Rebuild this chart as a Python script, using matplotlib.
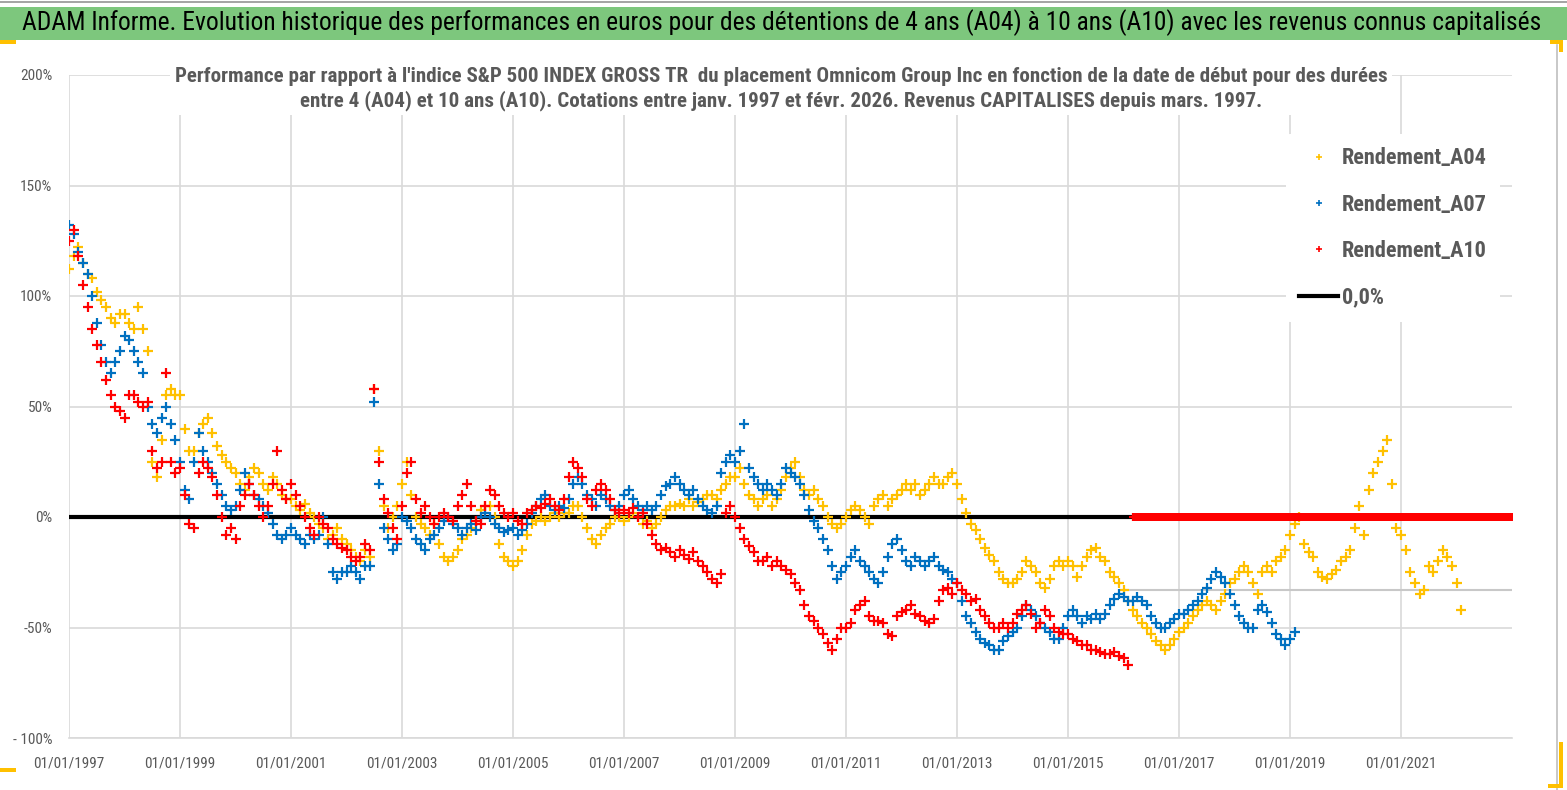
import numpy as np
import matplotlib
matplotlib.use("Agg")
import matplotlib.pyplot as plt
from matplotlib.lines import Line2D
from matplotlib.patches import Rectangle
from matplotlib import font_manager

# ---------------- data (monthly readings, start Jan 1997) ----------------
START_YEAR = 1997

A04 = [
    112, 118, 122, 115, 110, 108, 102, 98, 95, 90, 88, 92,      # 1997
    92, 88, 85, 95, 85, 75, 25, 18, 35, 55, 58, 55,             # 1998
    55, 40, 30, 30, 38, 42, 45, 38, 32, 28, 25, 22,             # 1999
    20, 15, 12, 18, 22, 20, 15, 12, 18, 15, 10, 8,              # 2000
    8, 5, 3, 6, 2, 0, -3, -5, -10, -8, -5, -10,                 # 2001
    -12, -15, -18, -20, -15, -18, 58, 30, 5, -5, 0, 5,          # 2002
    15, 25, 10, 0, -3, -5, -8, -3, -12, -18, -20, -18,          # 2003
    -15, -10, -8, -5, -2, 3, 5, 5, 0, -12, -18, -20,            # 2004
    -22, -20, -15, -8, -3, -2, 0, -2, 0, 2, 0, 2,               # 2005
    2, 5, 5, 0, -5, -10, -12, -8, -5, -3, 0, 0,                 # 2006
    -2, 0, 2, 0, -3, -2, -5, -3, 0, 3, 5, 5,                    # 2007
    6, 5, 8, 5, 7, 8, 10, 10, 8, 12, 15, 18,                    # 2008
    18, 22, 15, 10, 8, 5, 8, 10, 5, 8, 12, 18,                  # 2009
    22, 25, 18, 12, 10, 12, 8, 5, 0, -3, -5, -3,                # 2010
    0, 3, 5, 3, 0, -3, 5, 8, 10, 5, 8, 10,                      # 2011
    12, 15, 12, 15, 10, 12, 15, 18, 15, 15, 18, 20,             # 2012
    15, 8, 2, -3, -6, -10, -14, -17, -20, -25, -28, -30,        # 2013
    -30, -28, -25, -20, -22, -25, -30, -32, -28, -22, -20, -22, # 2014
    -20, -22, -27, -22, -18, -15, -14, -18, -20, -25, -27, -30, # 2015
    -33, -38, -42, -45, -48, -50, -53, -56, -58, -60, -58, -55, # 2016
    -52, -50, -48, -45, -42, -40, -38, -40, -42, -38, -35, -30, # 2017
    -28, -25, -22, -25, -30, -35, -25, -22, -25, -20, -18, -15, # 2018
    -8, -3, 0, -12, -16, -18, -25, -27, -28, -26, -24, -20,     # 2019
    -18, -15, -5, 5, -8, 12, 20, 25, 30, 35, 15, -5,            # 2020
    -8, -15, -25, -30, -35, -33, -22, -25, -20, -15, -18, -22,  # 2021
    -30, -42,                                                   # 2022
]

A07 = [
    132, 128, 120, 115, 110, 100, 88, 78, 70, 65, 70, 75,       # 1997
    82, 80, 75, 70, 65, 50, 42, 38, 45, 50, 42, 35,             # 1998
    25, 12, 8, 25, 38, 30, 25, 20, 15, 10, 5, 3,                # 1999
    5, 12, 20, 15, 10, 8, 5, 2, -3, -8, -10, -8,                # 2000
    -5, -8, -10, -12, -8, -10, -8, 0, -12, -25, -28, -25,       # 2001
    -25, -22, -25, -28, -22, -22, 52, 15, -5, -10, -15, -12,    # 2002
    0, -2, -5, -10, -12, -15, -10, -8, -5, -2, 0, -3,           # 2003
    -5, -8, -5, -3, -6, 0, 2, 0, -3, -5, -7, -6,                # 2004
    -5, -8, -6, -3, 2, 5, 8, 10, 5, 3, 5, 4,                    # 2005
    8, 15, 18, 15, 10, 8, 5, 10, 8, 5, 3, 5,                    # 2006
    10, 12, 8, 5, 3, 5, 3, 5, 10, 14, 15, 18,                   # 2007
    15, 12, 10, 12, 8, 5, 3, 2, 5, 20, 25, 28,                  # 2008
    25, 30, 42, 22, 18, 15, 12, 15, 12, 10, 15, 22,             # 2009
    20, 18, 15, 10, 3, -2, -5, -10, -15, -22, -28, -25,         # 2010
    -22, -18, -15, -20, -22, -25, -28, -30, -25, -18, -12, -10, # 2011
    -15, -20, -22, -18, -20, -22, -20, -18, -22, -24, -25, -28, # 2012
    -30, -38, -45, -48, -52, -55, -57, -58, -60, -60, -56, -54, # 2013
    -52, -50, -45, -40, -42, -45, -48, -50, -52, -55, -55, -50, # 2014
    -45, -42, -45, -48, -45, -46, -44, -46, -44, -40, -37, -35, # 2015
    -36, -38, -38, -36, -38, -40, -45, -48, -50, -50, -48, -46, # 2016
    -44, -44, -42, -40, -38, -35, -32, -28, -25, -27, -30, -35, # 2017
    -40, -45, -48, -50, -50, -42, -40, -43, -48, -53, -55, -58, # 2018
    -55, -52,                                                   # 2019
]

A10 = [
    125, 130, 118, 105, 95, 85, 78, 70, 62, 55, 50, 48,         # 1997
    45, 55, 55, 52, 50, 52, 30, 22, 25, 65, 25, 20,             # 1998
    22, 10, -3, -5, 20, 25, 22, 18, 10, 0, -8, -5,              # 1999
    -10, 5, 10, 15, 10, 5, 0, 5, 15, 30, 12, 8,                 # 2000
    15, 10, 5, 0, -5, -8, 0, -3, -5, -10, -12, -14,             # 2001
    -15, -18, -20, -18, -12, -15, 58, 25, 8, 2, -5, -10,        # 2002
    5, 20, 25, 8, 2, 5, 0, -3, 0, 2, 0, -2,                     # 2003
    5, 10, 15, 5, -2, -3, 5, 12, 10, 5, 2, 0,                   # 2004
    2, -2, -3, 2, 3, 5, 4, 6, 8, 5, 3, 8,                       # 2005
    18, 25, 22, 18, 8, 5, 12, 15, 12, 8, 3, 2,                  # 2006
    3, 2, 4, 0, 2, -3, -8, -12, -15, -14, -16, -18,             # 2007
    -15, -17, -19, -16, -20, -22, -25, -28, -30, -26, 2, 5,     # 2008
    0, -5, -10, -13, -16, -20, -20, -18, -22, -20, -22, -24,    # 2009
    -26, -30, -33, -40, -45, -47, -50, -53, -57, -60, -55, -50, # 2010
    -50, -48, -42, -40, -38, -45, -47, -47, -48, -53, -54, -45, # 2011
    -43, -42, -40, -44, -45, -47, -48, -46, -38, -33, -32, -35, # 2012
    -30, -33, -35, -38, -37, -42, -45, -48, -50, -50, -48, -50, # 2013
    -48, -44, -42, -40, -44, -50, -48, -42, -45, -50, -52, -53, # 2014
    -53, -55, -56, -58, -58, -60, -60, -61, -62, -62, -61, -63, # 2015
    -64, -67,                                                   # 2016
]
# A10 sits exactly on 0 % from March 2016 to the end of the axis
A10_ZERO_FROM = 2016 + 2 / 12
A10_ZERO_TO = 2023.0

X_TICKS = [1997, 1999, 2001, 2003, 2005, 2007, 2009, 2011, 2013, 2015, 2017, 2019, 2021]
X_LABELS = ["01/01/%d" % y for y in X_TICKS]
Y_TICKS = [-100, -50, 0, 50, 100, 150, 200]
Y_LABELS = ["- 100%", "-50%", "0%", "50%", "100%", "150%", "200%"]

TITLE = ("ADAM Informe. Evolution historique des performances en euros pour des détentions "
         "de 4 ans (A04) à 10 ans (A10) avec les revenus connus capitalisés")
SUBTITLE = ("Performance par rapport à l'indice S&P 500 INDEX GROSS TR  du placement Omnicom Group Inc "
            "en fonction de la date de début pour des durées\n"
            "entre 4 (A04) et 10 ans (A10). Cotations entre janv. 1997 et févr. 2026. "
            "Revenus CAPITALISES depuis mars. 1997.")
LEGEND_LABELS = ["Rendement_A04", "Rendement_A07", "Rendement_A10", "0,0%"]

C04, C07, C10 = "#FFC000", "#0070C0", "#FF0000"
GREY_TXT = "#595959"

available = {f.name for f in font_manager.fontManager.ttflist}
NARROW = [n for n in ["Liberation Sans Narrow", "DejaVu Sans Condensed", "Roboto Condensed",
                      "Open Sans Condensed"] if n in available]
CONDENSED = bool(NARROW)
FONT = NARROW + ["Liberation Sans", "DejaVu Sans"]
K = 1.0 if CONDENSED else 0.86   # size factor when no condensed face exists

plt.rcParams["font.family"] = FONT

W, H = 1567, 790
fig = plt.figure(figsize=(W / 100, H / 100), dpi=100)
fig.patch.set_facecolor("white")

def fx(px):
    return px / W

def fy(py):
    return 1 - py / H

ax = fig.add_axes([fx(69), fy(738), fx(1512) - fx(69), fy(75) - fy(738)])
ax.set_xlim(1997, 2023)
ax.set_ylim(-100, 200)

def months(values):
    return START_YEAR + np.arange(len(values)) / 12.0

ax.axhline(0, color="black", lw=3, zorder=1, solid_capstyle="round")
ax.hlines(-33, 2016.0, 2023, color="#C8C8C8", lw=1.5, zorder=0.8)

mk = dict(linestyle="none", marker="+", markersize=6.5, markeredgewidth=1.6)
ax.plot(months(A04), A04, color=C04, zorder=2, **mk)
ax.plot(months(A07), A07, color=C07, zorder=3, **mk)
ax.plot(months(A10), A10, color=C10, zorder=4, **mk)
zx = np.arange(A10_ZERO_FROM, A10_ZERO_TO + 1e-9, 1 / 52)
ax.plot(zx, np.zeros_like(zx), color=C10, zorder=4, linestyle="none", marker="+",
        markersize=5.5, markeredgewidth=1.6)

ax.set_xticks(X_TICKS)
ax.set_xticklabels(X_LABELS)
ax.set_yticks(Y_TICKS)
ax.set_yticklabels(Y_LABELS)
ax.grid(True, color="#D9D9D9", lw=1.2)
ax.set_axisbelow(True)
for s in ["top", "right", "left"]:
    ax.spines[s].set_visible(False)
ax.spines["bottom"].set_color("#D9D9D9")
ax.spines["bottom"].set_linewidth(1.2)
ax.tick_params(axis="both", length=0, colors=GREY_TXT, labelsize=11 * K)
ax.tick_params(axis="x", pad=13)
ax.tick_params(axis="y", pad=12)

# title banner
fig.patches.append(Rectangle((0, fy(40)), 1, fy(7) - fy(40), transform=fig.transFigure,
                             facecolor="#7DC77D", edgecolor="none", zorder=0))
fig.patches.append(Rectangle((0, fy(3)), 1, fy(1) - fy(3), transform=fig.transFigure,
                             facecolor="#A6A6A6", edgecolor="none", zorder=0))
fig.text(fx(782), fy(23), TITLE, ha="center", va="center",
         fontsize=18.4 * K, color="black")

# subtitle
fig.text(fx(781), fy(89), SUBTITLE, ha="center", va="center",
         fontsize=15.1 * K, fontweight="bold", color=GREY_TXT, linespacing=1.3,
         bbox=dict(facecolor="white", edgecolor="none", pad=3), zorder=5)

# legend
handles = [
    Line2D([], [], color=C04, marker="+", linestyle="none", markersize=5, markeredgewidth=1.2),
    Line2D([], [], color=C07, marker="+", linestyle="none", markersize=5, markeredgewidth=1.2),
    Line2D([], [], color=C10, marker="+", linestyle="none", markersize=5, markeredgewidth=1.2),
    Line2D([], [], color="black", lw=3),
]
leg = fig.legend(handles, LEGEND_LABELS, loc="upper left",
                 bbox_to_anchor=(fx(1286), fy(134)), frameon=True,
                 fontsize=16 * K,
                 labelspacing=1.1, handlelength=1.75, handletextpad=0.15,
                 borderpad=0.6, borderaxespad=0)
leg.get_frame().set_facecolor("white")
leg.get_frame().set_edgecolor("none")
leg.get_frame().set_alpha(1)
for t in leg.get_texts():
    t.set_color(GREY_TXT)
    t.set_fontweight("bold")

# chart frame decorations
fig.add_artist(Line2D([fx(1557), fx(1557)], [fy(45), fy(790)], transform=fig.transFigure,
                      color="#BFBFBF", lw=1.2))
for (x0, y0, w, h) in [(0, 40, 16, 4), (1550, 40, 13, 4), (1559, 40, 4, 12),
                       (0, 768, 16, 4), (1559, 742, 4, 46), (1548, 784, 15, 4)]:
    fig.patches.append(Rectangle((fx(x0), fy(y0 + h)), w / W, h / H,
                                 transform=fig.transFigure, facecolor="#FFC000",
                                 edgecolor="none", zorder=6))

fig.savefig("out.png", dpi=100, facecolor="white")
